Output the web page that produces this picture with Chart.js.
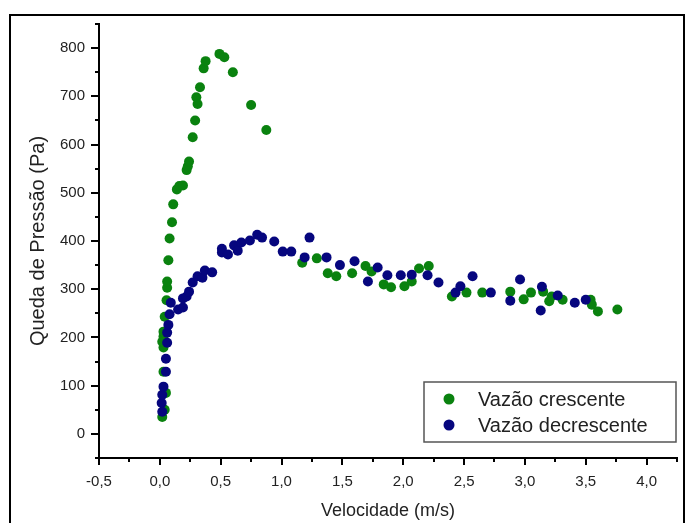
<!DOCTYPE html>
<html>
<head>
<meta charset="utf-8">
<script src="https://cdn.jsdelivr.net/npm/chart.js@4/dist/chart.umd.min.js"></script>
<style>
  body { margin: 0; background: #fff; }
  #wrap { position: relative; width: 685px; height: 523px; overflow: hidden; }
  #frame { position: absolute; left: 9px; top: 14px; width: 672px; height: 530px; border: 2px solid #000; pointer-events: none; }
  canvas { position: absolute; left: 0; top: 0; }
</style>
</head>
<body>
<div id="wrap">
  <canvas id="chart" width="685" height="523"></canvas>
  <div id="frame"></div>
</div>
<script>
// Queda de pressão vs velocidade, vazão crescente / decrescente
const SERIES_NAMES = ["Vazão crescente", "Vazão decrescente"];

const upX = [0.02, 0.04, 0.05, 0.03, 0.03, 0.02, 0.03, 0.03, 0.04, 0.055, 0.06, 0.06, 0.07, 0.08, 0.10, 0.11, 0.14, 0.16, 0.19,
  0.22, 0.23, 0.24, 0.27, 0.29, 0.30, 0.31, 0.33, 0.36, 0.376, 0.49, 0.53, 0.60, 0.75, 0.875,
  1.17, 1.29, 1.38, 1.45, 1.58, 1.69, 1.74, 1.84, 1.90, 2.01, 2.07, 2.13, 2.21, 2.40, 2.52, 2.65, 2.88, 2.99, 3.05,
  3.15, 3.20, 3.22, 3.31, 3.54, 3.55, 3.60, 3.76];
const upY = [35, 50, 85, 129, 179, 191, 202, 212, 243, 277, 303, 316, 360, 405, 439, 476, 507, 514, 515,
  547, 555, 565, 615, 650, 698, 684, 719, 758, 773, 788, 781, 750, 682, 630,
  355, 364, 333, 327, 333, 348, 337, 310, 304, 306, 316, 343, 348, 285, 293, 293, 295, 279, 293,
  295, 275, 285, 278, 278, 268, 254, 258];

const downX = [0.02, 0.015, 0.02, 0.03, 0.05, 0.05, 0.06, 0.06, 0.07, 0.08, 0.09, 0.15, 0.19, 0.19, 0.22, 0.24, 0.27, 0.31,
  0.35, 0.37, 0.43, 0.51, 0.51, 0.56, 0.61, 0.64, 0.67, 0.74, 0.80, 0.84, 0.94, 1.01, 1.08,
  1.19, 1.23, 1.37, 1.48, 1.60, 1.71, 1.79, 1.87, 1.98, 2.07, 2.20, 2.29, 2.43, 2.47, 2.57, 2.72, 2.88, 2.96,
  3.13, 3.14, 3.27, 3.41, 3.50];
const downY = [46, 64, 81, 98, 129, 156, 189, 210, 226, 248, 272, 258, 262, 281, 285, 295, 314, 327,
  324, 339, 335, 376, 384, 372, 391, 380, 397, 401, 413, 407, 399, 378, 378,
  366, 407, 366, 350, 358, 316, 345, 329, 329, 330, 329, 314, 293, 306, 327, 293, 276, 320,
  256, 305, 287, 272, 278];

// axis ranges and labelled ticks
const X_MIN = -0.5, X_MAX = 4.25;
const X_TICKS = [-0.5, 0, 0.5, 1.0, 1.5, 2.0, 2.5, 3.0, 3.5, 4.0];
const Y_MIN = -50, Y_MAX = 850;
const Y_TICKS = [0, 100, 200, 300, 400, 500, 600, 700, 800];

const GREEN = "#0a820f";
const NAVY = "#06067e";
const FONT = "'Liberation Sans', Arial, sans-serif";

function toPoints(xs, ys) {
  return xs.map((x, i) => ({ x: x, y: ys[i] }));
}

// tick marks (major on labelled ticks, minor halfway) drawn outside the axes
const tickMarks = {
  id: "tickMarks",
  afterDraw(chart) {
    const ctx = chart.ctx, xs = chart.scales.x, ys = chart.scales.y;
    const area = chart.chartArea;
    const xHalf = (X_TICKS[1] - X_TICKS[0]) / 2, yHalf = (Y_TICKS[1] - Y_TICKS[0]) / 2;
    ctx.save();
    ctx.strokeStyle = "#000";
    ctx.lineWidth = 2;
    ctx.beginPath();
    for (let v = X_MIN; v <= X_MAX + 1e-9; v += xHalf) {
      const px = Math.round(xs.getPixelForValue(v));
      const major = X_TICKS.some(t => Math.abs(t - v) < 1e-6);
      ctx.moveTo(px, area.bottom);
      ctx.lineTo(px, area.bottom + (major ? 7 : 4));
    }
    for (let v = Y_MIN; v <= Y_MAX + 1e-9; v += yHalf) {
      const py = Math.round(ys.getPixelForValue(v));
      const major = Y_TICKS.includes(v);
      ctx.moveTo(area.left, py);
      ctx.lineTo(area.left - (major ? 8 : 4), py);
    }
    ctx.stroke();
    ctx.restore();
  }
};

// boxed legend in the lower right corner of the plot
const boxLegend = {
  id: "boxLegend",
  afterDraw(chart) {
    const ctx = chart.ctx;
    const area = chart.chartArea;
    const bx = area.right - 253, by = area.bottom - 76, bw = 252, bh = 60;
    ctx.save();
    ctx.fillStyle = "#fff";
    ctx.fillRect(bx, by, bw, bh);
    ctx.strokeStyle = "#555";
    ctx.lineWidth = 1.5;
    ctx.strokeRect(bx, by, bw, bh);
    ctx.font = "20px " + FONT;
    ctx.textBaseline = "middle";
    const colors = [GREEN, NAVY];
    SERIES_NAMES.forEach((name, i) => {
      const cy = by + 17 + i * 26;
      ctx.fillStyle = colors[i];
      ctx.beginPath();
      ctx.arc(bx + 25, cy, 5.5, 0, Math.PI * 2);
      ctx.fill();
      ctx.fillStyle = "#222";
      ctx.fillText(name, bx + 54, cy + 1);
    });
    ctx.restore();
  }
};

new Chart(document.getElementById("chart"), {
  type: "scatter",
  data: {
    datasets: [
      { label: SERIES_NAMES[0], data: toPoints(upX, upY), backgroundColor: GREEN, borderWidth: 0, pointRadius: 5, order: 1 },
      { label: SERIES_NAMES[1], data: toPoints(downX, downY), backgroundColor: NAVY, borderWidth: 0, pointRadius: 5, order: 0 }
    ]
  },
  options: {
    responsive: false,
    animation: false,
    layout: { padding: { top: 24, right: 8, left: 0, bottom: 0 } },
    plugins: { legend: { display: false }, tooltip: { enabled: false } },
    scales: {
      x: {
        type: "linear", min: X_MIN, max: X_MAX,
        afterBuildTicks(scale) { scale.ticks = X_TICKS.map(v => ({ value: v })); },
        afterFit(scale) { scale.height = 65; },
        border: { color: "#000", width: 2 },
        grid: { display: false, drawTicks: false },
        ticks: {
          autoSkip: false, padding: 15, color: "#222",
          font: { family: FONT, size: 15 },
          callback: (v) => v.toFixed(1).replace(".", ",")
        },
        title: { display: true, text: "Velocidade (m/s)", color: "#222", font: { family: FONT, size: 18 }, padding: { top: 0, bottom: 1 } }
      },
      y: {
        type: "linear", min: Y_MIN, max: Y_MAX,
        afterBuildTicks(scale) { scale.ticks = Y_TICKS.map(v => ({ value: v })); },
        afterFit(scale) { scale.width = 99; },
        border: { color: "#000", width: 2 },
        grid: { display: false, drawTicks: false },
        ticks: {
          autoSkip: false, padding: 14, color: "#222",
          font: { family: FONT, size: 15 },
          callback: (v) => String(v)
        },
        title: { display: true, text: "Queda de Pressão (Pa)", color: "#222", font: { family: FONT, size: 20 }, padding: { top: 26, bottom: 0 } }
      }
    }
  },
  plugins: [tickMarks, boxLegend]
});
</script>
</body>
</html>
